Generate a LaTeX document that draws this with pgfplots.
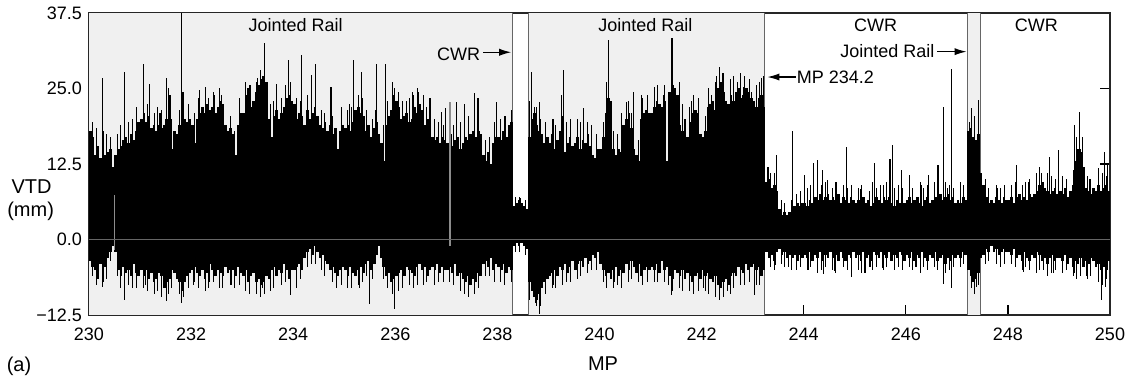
\documentclass[border=0pt]{standalone}
\usepackage{fontspec}
\setmainfont{Liberation Sans}
\usepackage{pgfplots}
\pgfplotsset{compat=1.18}
\usepackage{pgfplotstable}
\usetikzlibrary{arrows.meta}

% body of the VTD trace, one row every 0.05 MP from 230.025 to 249.975 (upper u, lower l)
\pgfplotstableread{
u l
18 -3.5
17 -4.5
14 -5
15.5 -6.5
13.5 -4
15 -5.5
14 -4.5
14.5 -3
15 -2
12 -1
14 -2
15 -5
15.5 -6
16.5 -4.5
17 -5.5
16 -5
17.5 -6
16.5 -4
18 -5.5
19.5 -6
20 -5
21 -6
19.5 -5
20.5 -6.5
18.5 -5.5
19 -7
18 -6.5
19 -5.5
18.5 -6
19 -8
20 -7
24 -6.5
15 -5
18 -5.5
17.5 -6.5
19 -7
24.5 -8.5
20 -7
19.5 -6
20 -5.5
19 -5
16 -4.5
20 -5.5
21 -6
22 -5
21 -6.5
22.5 -5.5
21.5 -4
22 -5
21 -6
22 -5
23 -5.5
22.5 -6
19 -4.5
18 -5.5
18.5 -5
17.5 -5
14 -6
19 -4.5
21 -5.5
21 -6
24 -5
25 -7
22 -6
23 -5.5
24.5 -7
25.5 -6.5
26.5 -7.5
27 -7
26 -6
20 -6.5
17 -5
20.5 -4.5
21.5 -6
20 -5
21 -5.5
22 -4
23.5 -5
24 -6.5
23 -5
22.5 -5
20 -4.5
21 -4
20.5 -5
19 -3
21.5 -2
20 -1.5
21 -2.5
22 -1
20.5 -2
19 -3
18.5 -2.5
19.5 -3.5
18 -4
19 -5
17.5 -4.5
18.5 -5.5
15 -6
18 -5
19 -4.5
18.5 -5
19 -6
18 -4.5
19.5 -5.5
21.5 -6
22 -5
21 -4.5
20.5 -5.5
18 -4
19 -3.5
17 -5
18.5 -4
19.5 -2.5
17.5 -1
16 -3
13 -4.5
19 -6
20.5 -5.5
21.5 -7
24 -6.5
23 -6
22 -5.5
20 -5
20.5 -6
21 -4.5
19.5 -5
20 -5.5
22 -6
21 -4.5
22.5 -4
21.5 -5
19 -4.5
20 -6
18.5 -5
17 -4.5
16.5 -5
17 -4
16 -5.5
17 -4.5
16.5 -5
16 -5
17.5 -4.5
15.5 -5.5
16.5 -4
17 -6
15 -5.5
16 -6.5
17 -7
16.5 -6
17.5 -7.5
18 -6.5
17 -7
18 -5.5
17.5 -6
14 -4
13 -3.5
14.5 -4.5
12.5 -3
16 -5
17 -4
17 -4.5
16.5 -5
18 -4
17 -5.5
19 -4.5
19.5 -5
5.5 -1
6 -0.5
6.5 -1
6 -0.5
5.5 -1
5 -1.5
17 -7
20 -8.5
21 -9.5
19 -10
18 -9
17.5 -8
16 -7
17 -6.5
16 -6
17.5 -5.5
15 -5
16.5 -6
18 -4.5
17 -5
14.5 -4
16 -5.5
17 -4.5
15.5 -3.5
16 -5
17 -4
15 -3.5
16.5 -4.5
16 -3
17.5 -4
15.5 -3.5
14 -2.5
13.5 -3
15 -2
15 -4
17 -5
21 -6
23.5 -5.5
23 -6.5
15 -5
14 -4.5
15 -6
14.5 -5
19 -5.5
20 -4
21 -5
18.5 -3.5
15 -4.5
14 -5.5
13 -4
20 -6
21 -5
21.5 -4.5
21 -5
21 -4.5
22 -5
23 -4
22.5 -5.5
22 -3.5
23 -5
13 -4.5
24.5 -6
25.5 -6.5
25 -5
24 -5.5
19 -6
18 -5
20 -6.5
17 -5.5
19.5 -6
21 -7
21.5 -6
21 -5.5
17.5 -6.5
17 -5
18 -6
22 -5.5
22.5 -6.5
23 -7
21.5 -6
25 -7.5
26 -8
24.5 -7
23 -6.5
22.5 -7.5
24 -6
23 -5.5
24.5 -6
25 -4.5
23.5 -5
24 -5.5
25 -4
24.5 -5
23.5 -4.5
23 -4
22 -5
23.5 -4.5
24 -6
22 -5
9.5 -2
10 -3
8.5 -2.5
9 -3.5
8 -2
5 -1.5
4 -2.5
4.5 -2
4 -3
4.5 -2.5
5 -3
5.5 -2.5
6 -3.5
5.5 -2.5
6 -3
6 -2.5
5.5 -3
6.5 -2
6 -3.5
7 -2.5
6.5 -3
7.5 -2
6.5 -3.5
7 -2.5
7.5 -3
6.5 -2
7 -3
6.5 -2.5
7.5 -3.5
6 -2
7 -3
6.5 -3.5
6 -2.5
7 -3
6.5 -2
6 -3
6.5 -2.5
5.5 -3.5
7 -2
6 -3
6.5 -2.5
5.5 -3.5
6 -2
7 -2.5
6.5 -3
6 -2
7 -2.5
6.5 -3
7 -2
6 -3.5
5.5 -2.5
6.5 -3
6 -2
7 -2.5
6 -3.5
6.5 -2.5
7 -3
6 -2
6.5 -3.5
7 -2.5
6 -3
5.5 -2
6.5 -3
7 -3.5
6 -2.5
6.5 -3
7 -2
6 -3.5
7.5 -3
6.5 -2.5
7 -4
7.5 -3
6.5 -3.5
7 -2.5
6 -3
6.5 -2.5
6 -3
7 -2
6.5 -2.5
18 -5
18.5 -6
17 -7
16.5 -6.5
17.5 -5.5
11 -3
9 -2.5
7 -1.5
6 -2
6.5 -1
6 -2
7 -1.5
6.5 -2.5
6 -2
7 -1.5
6.5 -2
6.5 -2
7 -2.5
6 -1.5
7 -3
7.5 -2.5
6.5 -3.5
7 -2
6.5 -3
7.5 -3.5
7 -2.5
7.5 -3
8 -2
9 -2.5
9.5 -3.5
8.5 -3
8 -4
7.5 -3
8 -2.5
8.5 -3.5
7.5 -3
8 -3
7.5 -3.5
8.5 -2.5
7 -4
8 -3
9 -4.5
13 -3.5
15 -4
14.5 -3
12 -4.5
8.5 -3.5
8 -4
7.5 -3
8.5 -3.5
8 -4.5
9 -4
8 -5
8.5 -4.5
9 -5
8 -3.5
}\bodytable

% fine grass of thin strokes on top of the body (upper a, lower b)
\pgfplotstableread{
x a b
230.07 19.5 -6
230.14 17 -7.5
230.28 18 -7
230.35 17.5 -6.5
230.43 16 -3.5
230.56 17.5 -6
230.62 19 -8
230.77 19.5 -7.5
230.85 20 -8
230.94 22 -8
231.07 23 -8
231.14 22.5 -8.5
231.28 21 -9
231.35 22 -8.5
231.43 21.5 -9.5
231.56 25 -9
231.62 20 -8
231.77 21.5 -9
231.85 23 -9.5
231.94 22.5 -8
232.07 21 -7
232.14 23.5 -8
232.28 24 -8.5
232.35 23.5 -8
232.43 24.5 -7
232.56 25 -8
232.62 21.5 -8
232.77 20.5 -7.5
232.85 18 -8
232.94 23.5 -7.5
233.07 26 -8.5
233.14 25.5 -9
233.28 26 -9
233.35 28 -9.5
233.43 29 -9
233.56 22.5 -8.5
233.62 23 -8
233.77 23.5 -7.5
233.85 25.5 -7
233.94 26 -8.5
234.07 23.5 -7
234.14 23 -6.5
234.28 24 -4.5
234.35 24.5 -4
234.43 23 -4
234.56 21.5 -5
234.62 21 -6
234.77 20.5 -7
234.85 18 -8
234.94 21 -7.5
235.07 21.5 -8
235.14 22 -8
235.28 24 -7.5
235.35 23.5 -7
235.43 21.5 -6
235.56 20 -6.5
235.62 21.5 -4
235.77 19 -6.5
235.85 23 -8
235.94 26 -9
236.07 24.5 -8.5
236.14 23 -8
236.28 23.5 -7.5
236.35 24 -8
236.43 25 -7.5
236.56 24 -7
236.62 22 -7
236.77 20 -7.5
236.85 19.5 -7
236.94 19 -7
237.07 19.5 -7
237.14 19 -7.5
237.28 19.5 -8.5
237.35 20 -9
237.43 20.5 -9.5
237.56 21 -9
237.62 20 -8
237.77 16.5 -6
237.85 17 -6
237.94 19.5 -7
238.07 20 -7
238.14 20.5 -7.5
238.28 21.5 -7
238.35 7 -2
238.43 7 -2
238.56 6.5 -2.5
238.62 23 -10
238.77 22 -11
238.85 20 -11
238.94 19.5 -9
239.07 20 -8
239.14 19 -8
239.28 20.5 -7.5
239.35 19.5 -7
239.43 19 -7
239.56 20 -6.5
239.62 19.5 -6
239.77 19.5 -5.5
239.85 18 -5
239.94 17.5 -5
240.07 19.5 -7
240.14 26 -8
240.28 18 -8
240.35 17.5 -7.5
240.43 21 -8
240.56 23 -7
240.62 21 -6.5
240.77 16.5 -7
240.85 23.5 -7.5
240.94 24 -7
241.07 24.5 -7
241.14 25.5 -7
241.28 25.5 -7
241.35 16 -7.5
241.43 28 -8.5
241.56 26 -8
241.62 22.5 -8.5
241.77 22 -8.5
241.85 24 -9
241.94 23.5 -8.5
242.07 20.5 -8.5
242.14 25 -9
242.28 26 -9.5
242.35 28.5 -10
242.43 26.5 -9.5
242.56 26.5 -9
242.62 27 -8
242.77 27.5 -7.5
242.85 27 -7.5
242.94 26.5 -7
243.07 25.5 -7.5
243.14 26 -7.5
243.35 11 -4.5
243.43 11 -5
243.56 6.5 -4
243.62 6 -4.5
243.77 6.5 -5
243.85 7.5 -5
243.94 8 -4.5
244.07 8.5 -5
244.14 9 -4.5
244.28 9.5 -5.5
244.35 9 -5
244.43 9.5 -4.5
244.56 8.5 -5
244.62 9.5 -5.5
244.77 9 -4.5
244.85 8.5 -5
244.94 9 -5.5
245.07 8.5 -5
245.14 9 -5.5
245.28 8 -4.5
245.35 9.5 -5
245.43 8.5 -4.5
245.56 9 -5
245.62 9.5 -4.5
245.77 8.5 -5
245.85 9 -4.5
245.94 8.5 -5
246.07 9 -4.5
246.14 8.5 -5
246.28 9.5 -5.5
246.35 8.5 -4.5
246.43 9 -5
246.56 9.5 -4.5
246.62 9 -5
246.77 9.5 -5.5
246.85 9 -5
246.94 8.5 -4.5
247.07 8.5 -4.5
247.14 9 -4
247.28 20 -8
247.35 20.5 -9
247.43 19 -7.5
247.56 10 -4
247.62 8.5 -3.5
247.77 9 -4
247.85 8.5 -4.5
247.94 9 -4
248.07 9 -4
248.14 9.5 -4.5
248.28 9 -5
248.35 9.5 -4.5
248.43 10 -5
248.56 11 -5.5
248.62 12 -5
248.77 11 -6
248.85 10.5 -5.5
248.94 10 -5
249.07 10.5 -5.5
249.14 10 -5
249.28 11.5 -6
249.35 17 -6.5
249.43 15 -6
249.56 10.5 -6.5
249.62 10 -6
249.77 10.5 -7
249.85 11 -7.5
249.94 10.5 -6.5
}\grass

% thin single spikes of the trace
\pgfplotstableread{
x y
230.15 18.5
230.27 26.7
230.42 17
230.69 27.8
230.85 19
231.06 29.1
231.19 25.8
231.39 21
231.51 26.7
231.55 24
231.82 37.5
232.16 24.7
232.29 25.3
232.45 24
232.6 23.9
233.17 25.5
233.30 26.7
233.43 32.5
233.68 25.7
233.90 29.7
234.16 30.5
234.36 27.3
234.44 29.1
234.74 25.3
234.95 22
235.1 22.5
235.19 29.7
235.34 27.8
235.63 29.1
235.80 29.1
235.98 25
236.22 23
236.33 24.4
236.45 24.5
236.68 23.5
236.91 21.1
236.99 21.7
237.20 22.8
237.36 22.5
237.55 24.2
237.62 23.5
237.98 22.8
238.15 20.5
238.45 6.8
238.67 27.8
238.72 22
238.83 22.8
239.1 20
239.26 23.9
239.29 28.1
239.44 20
239.68 21.7
239.85 19
240.17 33
240.53 22.8
240.66 24.4
240.82 23.9
240.95 21
241.08 25.3
241.25 24
241.42 33.3
241.8 23
242.2 24
242.30 27
242.42 27.5
242.7 26
242.82 25.3
242.98 24.4
243.17 26.7
243.22 27
243.3 12
243.47 14
243.78 17.9
244.02 10.7
244.19 12.6
244.27 13.1
244.36 11.5
244.47 9.8
244.65 9.5
244.83 15.3
245.12 8.4
245.39 12.6
245.5 9
245.69 13.4
245.74 15.6
245.92 11.5
246.08 10.7
246.3 9
246.44 10.7
246.63 12.3
246.73 22
246.82 8.5
246.9 28.3
247.07 9.6
247.25 19.5
247.29 21.7
247.43 23.1
247.8 8.5
248.16 12.3
248.4 9.5
248.65 11
248.82 13.7
248.99 14.8
249.31 18.9
249.41 21.1
249.47 17
249.6 10
249.77 11.8
249.9 14.5
249.95 12.5
230.27 -7.8
230.69 -10
231.1 -7.5
231.51 -10.2
231.78 -9
231.82 -10.5
232.05 -7.5
232.35 -7
232.8 -7.5
233.4 -8
233.95 -9.2
234.06 -8
234.85 -7.5
235.3 -8
235.50 -10.6
235.99 -11.5
236.55 -7.5
237.56 -9
238.75 -10.5
238.83 -12.3
239.1 -7.5
240.3 -7
241.41 -9.2
242.03 -8
242.5 -8.5
243.04 -9.2
243.44 -4.2
243.7 -4.5
244.1 -5
244.38 -5.7
244.6 -5.2
244.94 -6.2
245.2 -5.5
245.3 -4.5
245.55 -4.8
246.2 -4.5
246.73 -7.3
246.9 -8.1
247.39 -7.8
248.3 -5.4
248.7 -5
248.9 -5.5
249.3 -5.5
249.55 -6
249.83 -10
249.92 -7.8
}\spikes

\begin{document}
\begin{tikzpicture}
\begin{axis}[
  name=ax,
  scale only axis,
  width=510.5pt, height=151pt,
  xmin=230, xmax=250, ymin=-12.5, ymax=37.5,
  xtick={230,232,234,236,238,240,242,244,246,248,250},
  xticklabels={230,232,234,236,238,240,242,244,246,248,250},
  ytick={-12.5,0,12.5,25,37.5},
  yticklabels={−12.5,0.0,12.5,25.0,37.5},
  xtick pos=left, ytick pos=both,
  tick align=inside,
  major tick length=5pt,
  axis line style={black!85, line width=0.6pt},
  tick style={black, line width=0.6pt},
  ticklabel style={font=\fontsize{9}{11}\selectfont},
  xticklabel style={yshift=-3pt},
  clip mode=individual,
]
% track sections: jointed rail shaded
\fill[black!6] (axis cs:230,-12.5) rectangle (axis cs:238.29,37.5);
\fill[black!6] (axis cs:238.6,-12.5) rectangle (axis cs:243.24,37.5);
\fill[black!6] (axis cs:247.2,-12.5) rectangle (axis cs:247.47,37.5);
\draw[black!60, line width=0.5pt] (axis cs:238.29,-12.5) -- (axis cs:238.29,37.5);
\draw[black!60, line width=0.5pt] (axis cs:238.6,-12.5) -- (axis cs:238.6,37.5);
\draw[black!60, line width=0.5pt] (axis cs:243.24,-12.5) -- (axis cs:243.24,37.5);
\draw[black!60, line width=0.5pt] (axis cs:247.2,-12.5) -- (axis cs:247.2,37.5);
\draw[black!60, line width=0.5pt] (axis cs:247.47,-12.5) -- (axis cs:247.47,37.5);

\addplot[ycomb, black, line width=1.35pt, mark=none]
  table[x expr=230.025+0.05*\coordindex, y=u] {\bodytable};
\addplot[ycomb, black, line width=1.35pt, mark=none]
  table[x expr=230.025+0.05*\coordindex, y=l] {\bodytable};
\addplot[ycomb, black, line width=0.5pt, mark=none]
  table[x=x, y=a] {\grass};
\addplot[ycomb, black, line width=0.5pt, mark=none]
  table[x=x, y=b] {\grass};
\addplot[ycomb, black, line width=0.55pt, mark=none]
  table[x=x, y=y] {\spikes};
\addplot[ycomb, black!45, line width=0.6pt, mark=none]
  coordinates {(237.07,22.8) (237.07,-1) (230.5,7.3) (230.5,-1.8)};

\draw[black!60, line width=0.8pt] (axis cs:230,0) -- (axis cs:250,0);

% annotations
\begin{scope}[every node/.style={font=\fontsize{9}{11}\selectfont, inner sep=0pt}]
\node[anchor=base] at (axis cs:234.05,34.4) {Jointed Rail};
\node[anchor=base] at (axis cs:240.90,34.4) {Jointed Rail};
\node[anchor=base] at (axis cs:245.41,34.5) {CWR};
\node[anchor=base] at (axis cs:248.56,34.5) {CWR};
\node[anchor=base east] at (axis cs:237.67,29.7) {CWR};
\draw[line width=0.6pt, -{Latex[length=6pt,width=3.6pt]}] (axis cs:237.72,31.0) -- (axis cs:238.27,31.0);
\node[anchor=base east] at (axis cs:246.57,30.1) {Jointed Rail};
\draw[line width=0.6pt, -{Latex[length=6pt,width=3.6pt]}] (axis cs:246.62,31.1) -- (axis cs:247.19,31.1);
\node[anchor=base west] at (axis cs:243.86,25.8) {MP 234.2};
\draw[line width=0.6pt, -{Latex[length=6pt,width=3.6pt]}] (axis cs:243.84,26.9) -- (axis cs:243.29,26.9);
\end{scope}
\begin{scope}[every node/.style={font=\fontsize{10}{12}\selectfont, inner sep=0pt}]
\node[anchor=base] at ([xshift=-28.7pt]axis cs:230,7.6) {VTD};
\node[anchor=base] at ([xshift=-29.2pt]axis cs:230,3.8) {(mm)};
\node[anchor=base] at ([yshift=-27.8pt]axis cs:240.07,-12.5) {MP};
\node[anchor=base] at ([xshift=-35pt, yshift=-28.3pt]axis cs:230,-12.5) {(a)};
\end{scope}
\end{axis}
\pgfresetboundingbox
\path ([shift={(-44.5pt,-31.5pt)}]ax.south west) rectangle ([shift={(10.5pt,6.5pt)}]ax.north east);
\end{tikzpicture}
\end{document}
